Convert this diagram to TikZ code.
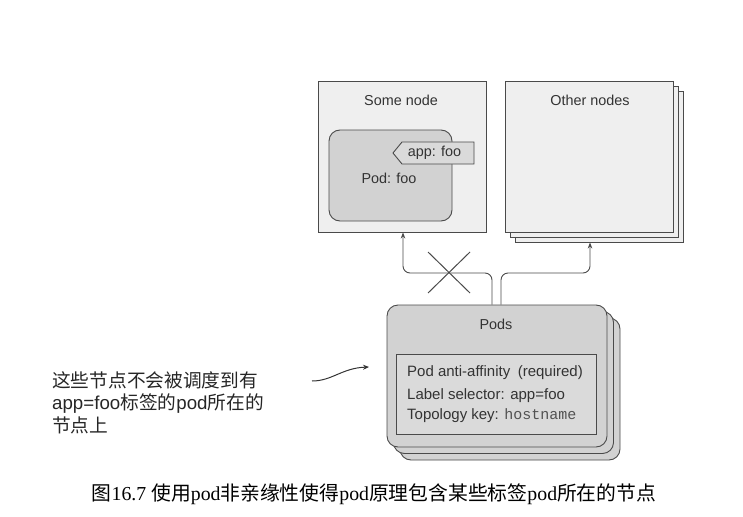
\documentclass[tikz,border=0pt]{standalone}
\usepackage{fontspec}
\setmainfont{Liberation Sans}
\newfontfamily\cjk{Noto Sans CJK SC}
\newfontfamily\capserif{Liberation Serif}
\newfontfamily\monof{Liberation Mono}
\usetikzlibrary{arrows.meta}
\definecolor{edgec}{HTML}{4A4A4A}
\definecolor{lightfill}{HTML}{EFEFEF}
\definecolor{podfill}{HTML}{D2D2D2}
\definecolor{tagfill}{HTML}{DADADA}
\definecolor{txt}{HTML}{333333}
\tikzset{
  hostbox/.style={draw=edgec, line width=0.9pt, fill=lightfill, minimum width=168pt, minimum height=151pt, inner sep=0pt},
  podbox/.style={draw=edgec, line width=0.9pt, fill=podfill, rounded corners=11pt, inner sep=0pt},
  lbl/.style={text=txt, font=\fontsize{14.4}{17}\selectfont, inner sep=0pt},
  rulelbl/.style={text=txt, font=\fontsize{15}{18}\selectfont, inner sep=0pt, anchor=west},
  conn/.style={draw=edgec, line width=0.9pt, rounded corners=7pt, -{Stealth[length=6pt,width=4.5pt]}},
}
\begin{document}
\begin{tikzpicture}[x=1pt,y=-1pt]
\useasboundingbox (0,0) rectangle (743,516);
% Some node
\node[hostbox] (some) at (402.5,156.5) {};
\node[lbl] (somelbl) at (401,100) {Some node};
\node[podbox, minimum width=123pt, minimum height=91pt] (podfoo) at (390.5,175.5) {};
\node[lbl] (podfoolbl) at (389,178) {Pod: foo};
\draw[draw=edgec, line width=0.9pt, fill=tagfill] (393,153) -- (402,142) -- (474,142) -- (474,164) -- (402,164) -- cycle;
\node[lbl] (tag) at (434.5,153) {app: foo};
% Other nodes
\node[hostbox] (other3) at (599,166.5) {};
\node[hostbox] (other2) at (594,161.5) {};
\node[hostbox] (other) at (589,156.5) {};
\node[lbl] (otherlbl) at (590,100) {Other nodes};
% Pods
\node[podbox, minimum width=220pt, minimum height=142pt] (pods3) at (510,389) {};
\node[podbox, minimum width=220pt, minimum height=142pt] (pods2) at (503.5,382.5) {};
\node[podbox, minimum width=220pt, minimum height=142pt] (pods) at (497,376) {};
\node[lbl] (podslbl) at (496,324) {Pods};
\node[draw=edgec, line width=0.9pt, fill=tagfill, minimum width=200pt, minimum height=80pt, inner sep=0pt] (rule) at (496,394) {};
\node[rulelbl] (l1) at (407,373) {Pod anti-affinity\enspace(required)};
\node[rulelbl] (l2) at (407,396) {Label selector: app=foo};
\node[rulelbl] (l3) at (407,415.5) {Topology key: {\monof\color{txt!85}hostname}};
% connectors
\coordinate (j1) at (403,273);
\coordinate (j2) at (590,273);
\draw[conn] ([xshift=-5pt]pods.north) |- (j1) -- (j1 |- some.south);
\draw[conn] ([xshift=4pt]pods.north) |- (j2) -- (j2 |- other3.south);
\coordinate (x1) at (428,252);
\coordinate (x2) at (470,293);
\coordinate (x3) at (470,252);
\coordinate (x4) at (428,293);
\draw[draw=edgec, line width=1pt] (x1) -- (x2) (x3) -- (x4);
% note
\node[anchor=north west, align=left, text=black!85, inner sep=0pt, font=\fontsize{18.7}{22.5}\selectfont] (note) at (52,371)
  {{\cjk 这些节点不会被调度到有}\\app=foo{\cjk 标签的}pod{\cjk 所在的}\\{\cjk 节点上}};
\coordinate (a0) at (312,381);
\coordinate (a1) at (369,367);
\draw[line width=1pt, draw=black!80, -{Stealth[length=6pt,width=5pt]}] (a0) .. controls (332,381) and (342,368) .. (a1);
% caption
\node[inner sep=0pt, font=\fontsize{19.8}{22}\selectfont] (cap) at (374,494)
  {{\cjk 图}{\capserif 16.7 }{\cjk 使用}{\capserif pod}{\cjk 非亲缘性使得}{\capserif pod}{\cjk 原理包含某些标签}{\capserif pod}{\cjk 所在的节点}};
\end{tikzpicture}
\end{document}
